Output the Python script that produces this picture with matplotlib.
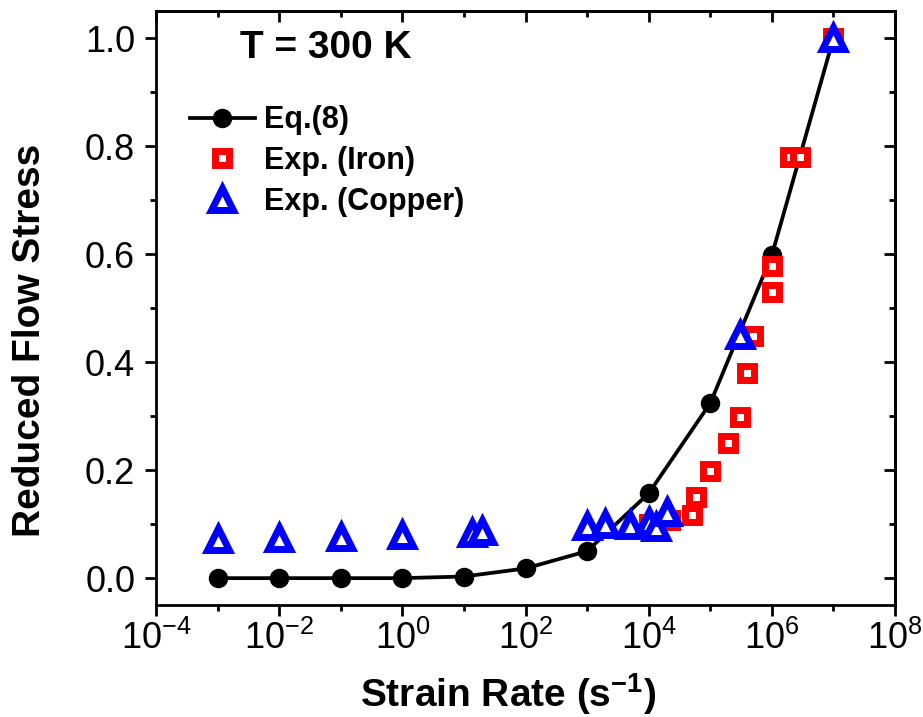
import numpy as np
import matplotlib
matplotlib.use('Agg')
import matplotlib.pyplot as plt
from matplotlib.ticker import FixedLocator, FuncFormatter, NullFormatter
from matplotlib.lines import Line2D

plt.rcParams['font.family'] = ['Liberation Sans', 'DejaVu Sans']
plt.rcParams['mathtext.default'] = 'regular'

# Eq.(8) model curve
eq_rate = [1e-3, 1e-2, 1e-1, 1e0, 1e1, 1e2, 1e3, 1e4, 1e5, 1e6, 1e7]
eq_stress = [0.0, 0.0, 0.0, 0.0, 0.003, 0.018, 0.05, 0.157, 0.324, 0.598, 1.0]

# Experimental data, iron
iron_rate = [1e4, 2.2e4, 5e4, 5.9e4, 1e5, 1.95e5, 3e5, 3.9e5, 4.9e5,
             1e6, 1e6, 2e6, 2.9e6, 1e7]
iron_stress = [0.10, 0.107, 0.117, 0.15, 0.198, 0.25, 0.298, 0.38, 0.448,
               0.53, 0.578, 0.78, 0.78, 1.0]

# Experimental data, copper
cu_rate = [1e-3, 1e-2, 1e-1, 1e0, 13.5, 20, 1e3, 1.95e3, 4.9e3, 1e4,
           1.3e4, 2e4, 3e5, 1e7]
cu_stress = [0.072, 0.074, 0.076, 0.08, 0.083, 0.087, 0.096, 0.10, 0.098,
             0.104, 0.095, 0.122, 0.45, 1.0]

x_major = 10.0 ** np.arange(-4, 9, 2)
x_minor = 10.0 ** np.arange(-3, 8, 2)
y_major = np.arange(0, 1.01, 0.2)
y_minor = np.arange(0.1, 1.0, 0.2)

fig = plt.figure(figsize=(9.23, 7.17), dpi=100)
ax = fig.add_axes([0.169, 0.156, 0.8007, 0.8285])

ax.plot(eq_rate, eq_stress, '-o', color='black', lw=2.7, ms=13, zorder=2)
ax.plot(iron_rate, iron_stress, 's', ls='none', mfc='white', mec='red',
        ms=9.5, mew=5, zorder=3)
ax.plot(cu_rate, cu_stress, '^', ls='none', mfc='white', mec='blue',
        ms=15.5, mew=5, zorder=4)

ax.set_xscale('log')
ax.set_xlim(1e-4, 1e8)
ax.set_ylim(-0.05, 1.05)

ax.xaxis.set_major_locator(FixedLocator(x_major))
ax.xaxis.set_minor_locator(FixedLocator(x_minor))
ax.xaxis.set_major_formatter(FuncFormatter(
    lambda v, p: '$10^{%d}$' % int(round(np.log10(v)))))
ax.xaxis.set_minor_formatter(NullFormatter())
ax.yaxis.set_major_locator(FixedLocator(y_major))
ax.yaxis.set_minor_locator(FixedLocator(y_minor))
ax.yaxis.set_major_formatter(FuncFormatter(lambda v, p: '%.1f' % v))
ax.yaxis.set_minor_formatter(NullFormatter())

for s in ax.spines.values():
    s.set_linewidth(2)

ax.tick_params(which='both', direction='out', width=2, labelsize=26,
               top=False, right=False)
ax.tick_params(which='major', length=8)
ax.tick_params(which='minor', length=4.5)
ax.tick_params(axis='y', pad=7)
ax.tick_params(axis='x', pad=3)

# inward ticks on the top and right spines
sec_x = ax.secondary_xaxis('top')
sec_x.xaxis.set_major_locator(FixedLocator(x_major))
sec_x.xaxis.set_minor_locator(FixedLocator(x_minor))
sec_x.xaxis.set_major_formatter(NullFormatter())
sec_x.xaxis.set_minor_formatter(NullFormatter())
sec_x.tick_params(which='both', direction='in', width=2)
sec_x.tick_params(which='major', length=8)
sec_x.tick_params(which='minor', length=4.5)
sec_x.spines['top'].set_linewidth(2)
sec_y = ax.secondary_yaxis('right')
sec_y.yaxis.set_major_locator(FixedLocator(y_major))
sec_y.yaxis.set_minor_locator(FixedLocator(y_minor))
sec_y.yaxis.set_major_formatter(NullFormatter())
sec_y.yaxis.set_minor_formatter(NullFormatter())
sec_y.tick_params(which='both', direction='in', width=2)
sec_y.tick_params(which='major', length=8)
sec_y.tick_params(which='minor', length=4.5)
sec_y.spines['right'].set_linewidth(2)

ax.set_xlabel('Strain Rate (s$^{-1}$)', fontsize=28, fontweight='bold')
ax.set_ylabel('Reduced Flow Stress', fontsize=28, fontweight='bold')
ax.xaxis.set_label_coords(0.476, -0.112)
ax.yaxis.set_label_coords(-0.146, 0.446)

ax.text(0.23, 0.938, 'T = 300 K', transform=ax.transAxes, fontsize=28,
        fontweight='bold', ha='center', va='center')

handles = [
    Line2D([], [], color='black', marker='o', lw=2.7, ms=13),
    Line2D([], [], color='red', marker='s', ls='none', mfc='white', ms=9.5, mew=5),
    Line2D([], [], color='blue', marker='^', ls='none', mfc='white', ms=15.5, mew=5),
]
labels = ['Eq.(8)', 'Exp. (Iron)', 'Exp. (Copper)']
ax.legend(handles, labels, loc='upper left', bbox_to_anchor=(0.03, 0.862),
          frameon=False, prop={'size': 22, 'weight': 'bold'},
          handlelength=2.1, handletextpad=0.3, labelspacing=0.35,
          borderaxespad=0)

fig.savefig('out.png', dpi=100)
